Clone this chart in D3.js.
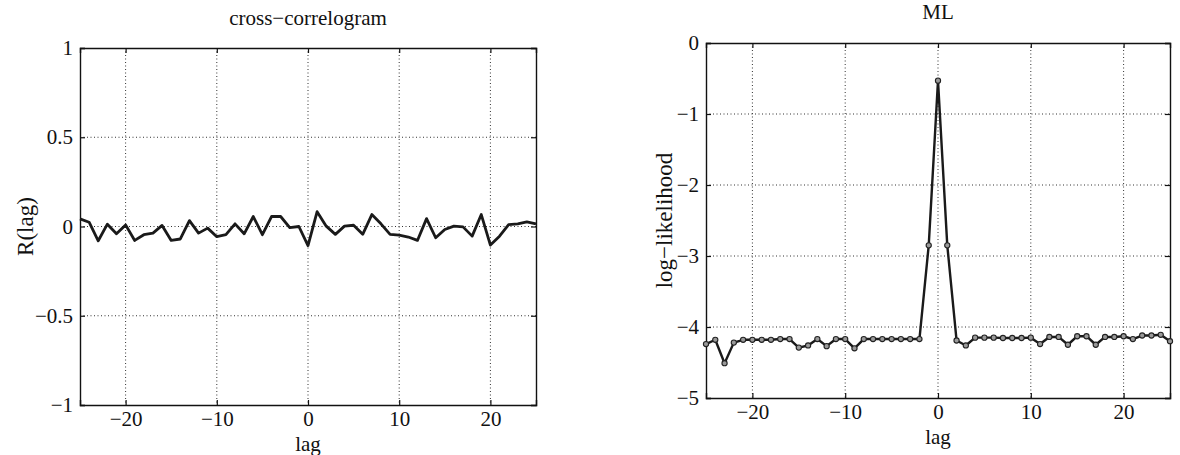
<!DOCTYPE html>
<html>
<head>
<meta charset="utf-8">
<script src="https://cdn.jsdelivr.net/npm/d3@7"></script>
<style>
  body { margin: 0; background: #fff; }
  text { font-family: "Liberation Serif", "DejaVu Serif", serif; fill: #111; }
</style>
</head>
<body>
<svg id="chart" width="1180" height="455"></svg>
<script>
// lags shared by both panels
const lags = d3.range(-25, 26);
const xTicks = [-20, -10, 0, 10, 20];
const corrTicks = [-1, -0.5, 0, 0.5, 1];
const mlTicks = [-5, -4, -3, -2, -1, 0];

// cross-correlogram R(lag), lag -25..25
const corrValues = [
  0.043, 0.024, -0.080, 0.013, -0.041, 0.009, -0.078, -0.046, -0.037, 0.006,
  -0.078, -0.070, 0.033, -0.037, -0.009, -0.057, -0.046, 0.015, -0.041, 0.056,
  -0.046, 0.056, 0.056, -0.006, 0.000, -0.107, 0.083, 0.002, -0.044, 0.002,
  0.007, -0.044, 0.067, 0.015, -0.044, -0.048, -0.059, -0.078, 0.044, -0.063,
  -0.017, 0.002, -0.002, -0.054, 0.067, -0.104, -0.054, 0.011, 0.015, 0.026,
  0.015
];

// ML log-likelihood, lag -25..25
const mlValues = [
  -4.24, -4.18, -4.51, -4.22, -4.18, -4.18, -4.18, -4.18, -4.17, -4.17,
  -4.29, -4.26, -4.17, -4.27, -4.17, -4.17, -4.30, -4.17, -4.17, -4.17,
  -4.17, -4.17, -4.17, -4.17, -2.85, -0.53, -2.85, -4.19, -4.26, -4.15,
  -4.15, -4.15, -4.155, -4.155, -4.155, -4.15, -4.24, -4.14, -4.14, -4.25,
  -4.13, -4.13, -4.25, -4.14, -4.14, -4.13, -4.17, -4.12, -4.12, -4.11,
  -4.20
];

const svg = d3.select('#chart');
const fmt = d => (d < 0 ? '\u2212' + Math.abs(d) : String(d));

const drawPanel = (cfg) => {
  const { left, top, width, height } = cfg.box;
  const x = d3.scaleLinear().domain([-25, 25]).range([left, left + width]);
  const y = d3.scaleLinear().domain(cfg.yDomain).range([top + height, top]);
  const g = svg.append('g');

  // dotted grid
  g.selectAll('.vgrid').data(xTicks).enter().append('line')
    .attr('x1', d => x(d)).attr('x2', d => x(d))
    .attr('y1', top).attr('y2', top + height)
    .attr('stroke', '#333').attr('stroke-width', 1)
    .attr('stroke-dasharray', '1,2.5');
  g.selectAll('.hgrid').data(cfg.yTicks.filter(t => t !== cfg.yDomain[0] && t !== cfg.yDomain[1]))
    .enter().append('line')
    .attr('x1', left).attr('x2', left + width)
    .attr('y1', d => y(d)).attr('y2', d => y(d))
    .attr('stroke', '#333').attr('stroke-width', 1)
    .attr('stroke-dasharray', '1,2.5');

  // axes with inward ticks on all four sides
  g.append('g').attr('transform', `translate(0,${top + height})`)
    .call(d3.axisBottom(x).tickValues(xTicks).tickSize(-5).tickPadding(6).tickFormat(fmt));
  g.append('g').attr('transform', `translate(0,${top})`)
    .call(d3.axisTop(x).tickValues(xTicks).tickSize(-5).tickFormat(''));
  g.append('g').attr('transform', `translate(${left},0)`)
    .call(d3.axisLeft(y).tickValues(cfg.yTicks).tickSize(-5).tickPadding(7).tickFormat(fmt));
  g.append('g').attr('transform', `translate(${left + width},0)`)
    .call(d3.axisRight(y).tickValues(cfg.yTicks).tickSize(-5).tickFormat(''));
  g.selectAll('.domain').attr('stroke', '#111').attr('stroke-width', 1.4);
  g.selectAll('.tick line').attr('stroke', '#111').attr('stroke-width', 1.2);
  g.selectAll('.tick text').style('font-size', '21px').attr('fill', '#111')
    .style('font-family', '"Liberation Serif", "Times New Roman", serif');

  // data line
  const line = d3.line().x((d, i) => x(lags[i])).y(d => y(d));
  g.append('path').datum(cfg.values)
    .attr('d', line).attr('fill', 'none')
    .attr('stroke', '#1a1a1a').attr('stroke-width', cfg.lineWidth)
    .attr('stroke-linejoin', 'round');

  if (cfg.markers) {
    g.selectAll('.mk').data(cfg.values).enter().append('circle')
      .attr('cx', (d, i) => x(lags[i])).attr('cy', d => y(d))
      .attr('r', 2.6).attr('fill', '#9a9a9a')
      .attr('stroke', '#222').attr('stroke-width', 1.1);
  }

  // title and labels
  g.append('text').attr('x', x(0)).attr('y', cfg.titleY)
    .attr('text-anchor', 'middle').style('font-size', '21px').text(cfg.title);
  g.append('text').attr('x', x(0)).attr('y', top + height + 46)
    .attr('text-anchor', 'middle').style('font-size', '21px').text('lag');
  g.append('text')
    .attr('transform', `translate(${cfg.ylabelX},${top + height / 2}) rotate(-90)`)
    .attr('text-anchor', 'middle').style('font-size', '23px').text(cfg.ylabel);
};

drawPanel({
  box: { left: 80, top: 48, width: 456, height: 357 },
  yDomain: [-1, 1], yTicks: corrTicks, values: corrValues,
  title: 'cross\u2212correlogram', titleY: 25, ylabel: 'R(lag)', ylabelX: 33,
  lineWidth: 2.8, markers: false
});

drawPanel({
  box: { left: 706, top: 43, width: 464, height: 355 },
  yDomain: [-5, 0], yTicks: mlTicks, values: mlValues,
  title: 'ML', titleY: 19, ylabel: 'log\u2212likelihood', ylabelX: 672,
  lineWidth: 2.4, markers: true
});
</script>
</body>
</html>
